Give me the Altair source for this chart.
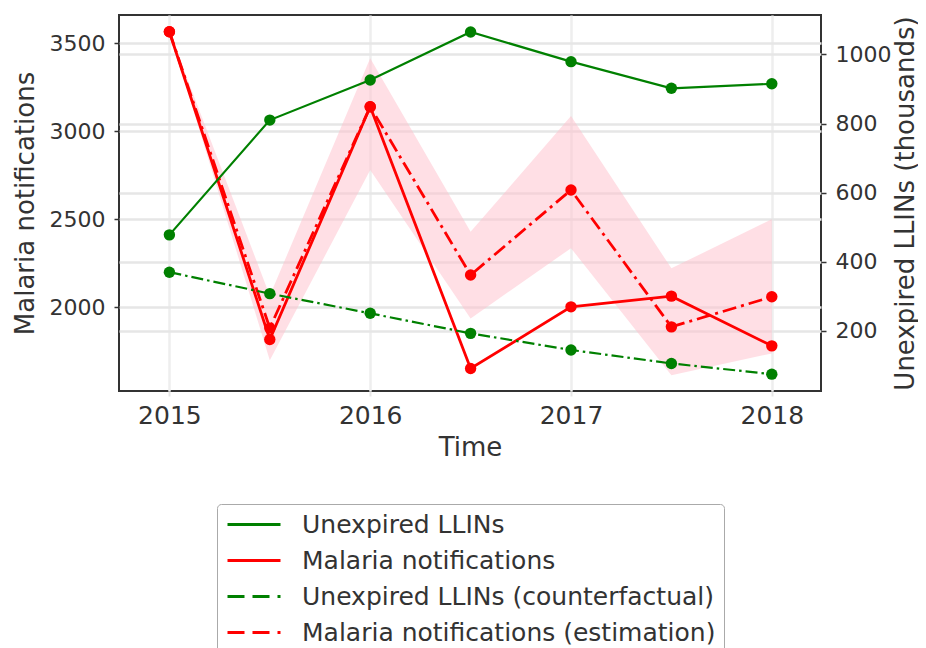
import altair as alt
import pandas as pd

# ---- data ----
years = [2015, 2015.5, 2016, 2016.5, 2017, 2017.5, 2018]
llins = [478, 810, 926, 1065, 979, 902, 915]
llins_cf = [370, 308, 251, 193, 145, 106, 75]
malaria = [3567, 1815, 3140, 1650, 2001, 2062, 1779]
malaria_est = [3567, 1880, 3140, 2182, 2666, 1887, 2058]
est_low = [3567, 1697, 2780, 1935, 2335, 1612, 1736]
est_high = [3567, 2064, 3416, 2428, 3087, 2220, 2500]

names = [
    "Unexpired LLINs",
    "Malaria notifications",
    "Unexpired LLINs (counterfactual)",
    "Malaria notifications (estimation)",
]
x_ticks = [2015, 2016, 2017, 2018]
left_ticks = [2000, 2500, 3000, 3500]
right_ticks = [200, 400, 600, 800, 1000]

FONT = "DejaVu Sans"
TXT = "#333333"


def long(vals, name):
    return pd.DataFrame({"time": years, "value": vals, "series": name})


df_mal = long(malaria, names[1])
df_est = long(malaria_est, names[3])
df_ll = long(llins, names[0])
df_cf = long(llins_cf, names[2])
df_band = pd.DataFrame({"time": years, "low": est_low, "high": est_high})
# legend-only rows, placed outside the x domain (clipped away)
df_key = pd.DataFrame({"time": [2030, 2031] * 4,
                       "value": [2000, 2000] * 4,
                       "series": [n for n in names for _ in range(2)]})

legend = alt.Legend(
    title=None,
    orient="none",
    legendX=98,
    legendY=489,
    symbolType="M-1,0H4.3",
    symbolSize=400,
    symbolStrokeWidth=3,
    symbolOpacity=1,
    labelFont=FONT,
    labelFontSize=25,
    labelColor=TXT,
    labelLimit=0,
    labelOffset=52,
    strokeColor="#aaaaaa",
    fillColor="white",
    padding=8,
    cornerRadius=4,
    rowPadding=10,
)
color = alt.Color(
    "series:N",
    scale=alt.Scale(domain=names, range=["green", "red", "green", "red"]),
    legend=legend,
)
dash = alt.StrokeDash(
    "series:N",
    scale=alt.Scale(domain=names, range=[[1, 0], [1, 0], [17, 8], [17, 8]]),
    legend=legend,
)

X = alt.X(
    "time:Q",
    scale=alt.Scale(domain=[2014.749, 2018.245], nice=False, zero=False),
    axis=alt.Axis(
        values=x_ticks,
        format="d",
        title="Time",
        grid=True,
        gridColor="#eeeeee",
        gridWidth=2.5,
        domain=False,
        tickColor="#e6e6e6",
        tickWidth=2,
        tickSize=5,
        labelPadding=7,
        labelFontSize=25,
        titleFontSize=26,
        titleX=351,
        titleY=64,
        titleBaseline="alphabetic",
        titleAlign="center",
    ),
)

left_axis = alt.Axis(
    values=left_ticks,
    format="d",
    title="Malaria notifications",
    orient="left",
    grid=True,
    gridColor="#e6e6e6",
    gridWidth=2.5,
    domain=False,
    tickColor=TXT,
    tickWidth=1.5,
    tickSize=5,
    labelPadding=9,
    labelFontSize=22,
    titleFontSize=26,
    titleAngle=270,
    titleX=-94,
    titleY=188,
    titleAlign="center",
    titleBaseline="middle",
)
right_axis = alt.Axis(
    values=right_ticks,
    format="d",
    title="Unexpired LLINs (thousands)",
    orient="right",
    grid=True,
    gridColor="#e6e6e6",
    gridWidth=2.5,
    domain=False,
    tickColor=TXT,
    tickWidth=1.5,
    tickSize=5,
    labelPadding=9,
    labelFontSize=22,
    titleFontSize=26,
    titleAngle=270,
    titleX=84,
    titleY=188,
    titleAlign="center",
    titleBaseline="middle",
)
left_scale = alt.Scale(domain=[1522, 3662], nice=False, zero=False)
right_scale = alt.Scale(domain=[26.3, 1114], nice=False, zero=False)

YL = alt.Y("value:Q", scale=left_scale, axis=left_axis)
YR = alt.Y("value:Q", scale=right_scale, axis=right_axis)

band = alt.Chart(df_band).mark_area(color="pink", opacity=0.5).encode(
    x=X,
    y=alt.Y("low:Q", scale=left_scale, axis=left_axis),
    y2="high:Q",
)
key = alt.Chart(df_key).mark_line(clip=True, strokeWidth=3).encode(
    x=X, y=YL, color=color, strokeDash=dash
)
mal_line = alt.Chart(df_mal).mark_line(strokeWidth=2.8, color="red").encode(x=X, y=YL)
est_line = alt.Chart(df_est).mark_line(
    strokeWidth=2.8, color="red", strokeDash=[14, 5, 3, 5]
).encode(x=X, y=YL)
mal_pts = alt.Chart(df_mal).mark_circle(size=130, opacity=1, color="red").encode(x=X, y=YL)
est_pts = alt.Chart(df_est).mark_circle(size=130, opacity=1, color="red").encode(x=X, y=YL)

ll_line = alt.Chart(df_ll).mark_line(strokeWidth=2.2, color="green").encode(x=X, y=YR)
cf_line = alt.Chart(df_cf).mark_line(
    strokeWidth=2.2, color="green", strokeDash=[12, 4, 2.5, 4]
).encode(x=X, y=YR)
ll_pts = alt.Chart(df_ll).mark_circle(size=130, opacity=1, color="green").encode(x=X, y=YR)
cf_pts = alt.Chart(df_cf).mark_circle(size=130, opacity=1, color="green").encode(x=X, y=YR)

left = alt.layer(band, key, mal_line, est_line, mal_pts, est_pts)
right = alt.layer(ll_line, cf_line, ll_pts, cf_pts)

chart = (
    alt.layer(left, right)
    .resolve_scale(y="independent")
    .properties(
        width=702,
        height=376,
        padding={"left": 111, "top": 7, "right": 97, "bottom": 257},
        autosize=alt.AutoSizeParams(type="none"),
    )
    .configure_view(stroke="#333333", strokeWidth=2)
    .configure_axis(
        labelFont=FONT,
        titleFont=FONT,
        labelColor=TXT,
        titleColor=TXT,
        titleFontWeight="normal",
    )
)

chart.save("out.html", embed_options={"renderer": "svg", "actions": False})
